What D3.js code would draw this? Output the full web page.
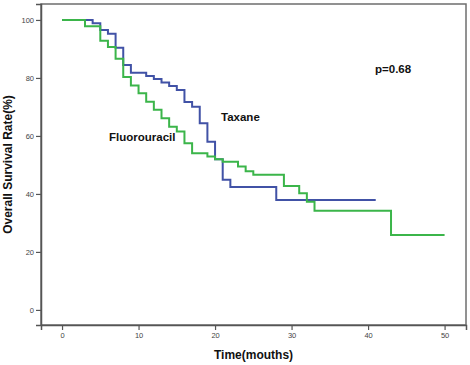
<!DOCTYPE html>
<html>
<head>
<meta charset="utf-8">
<script src="https://cdn.jsdelivr.net/npm/d3@7"></script>
<style>
  html, body { margin: 0; padding: 0; background: #fff; }
  svg { display: block; }
  text { font-family: "Liberation Sans", Arial, sans-serif; }
</style>
</head>
<body>
<svg id="chart" width="470" height="365"></svg>
<script>
// ---- data (step points: time, survival %) ----
const taxaneTimes    = [0, 4, 5, 6, 7, 8, 9, 11, 12, 13, 14, 15, 16, 17, 18, 19, 20, 21, 22, 28, 41];
const taxaneSurv     = [100, 98.9, 96.5, 95.2, 90.4, 84.5, 81.8, 80.7, 79.6, 78.4, 77.2, 75.8, 71.7, 70.1, 64.4, 58, 52, 44.9, 42.4, 37.9, 37.9];
const fluoroTimes    = [0, 3, 5, 6, 7, 8, 9, 10, 11, 12, 13, 14, 15, 16, 17, 19, 20, 21, 23, 24, 25, 29, 31, 32, 33, 43, 50];
const fluoroSurv     = [100, 97.8, 92.8, 90.7, 86.6, 80.3, 77.4, 74.7, 71.8, 69, 66.1, 63.2, 61.5, 57.5, 54, 52.9, 52, 51.1, 49.5, 47.8, 46.6, 42.7, 40.2, 37.3, 34.2, 25.8, 25.8];
const xTicks = [0, 10, 20, 30, 40, 50];
const yTicks = [0, 20, 40, 60, 80, 100];
const xTitle = "Time(mouths)";
const yTitle = "Overall Survival Rate(%)";
const pLabel = "p=0.68";
const seriesNames = ["Taxane", "Fluorouracil"];

// ---- layout ----
const svg = d3.select("#chart");
const L = 41, R = 466, T = 4, B = 325;

const x = d3.scaleLinear().domain([-2.75, 52.8]).range([L, R]);
const y = d3.scaleLinear().domain([-5.2, 105.5]).range([B, T]);

// frame
svg.append("rect")
  .attr("x", L).attr("y", T).attr("width", R - L).attr("height", B - T)
  .attr("fill", "none").attr("stroke", "#6e6e6e").attr("stroke-width", 1.5);

// axes
const yAxis = svg.append("g").attr("transform", `translate(${L},0)`)
  .call(d3.axisLeft(y).tickValues(yTicks).tickSize(5).tickPadding(2));
const xAxis = svg.append("g").attr("transform", `translate(0,${B})`)
  .call(d3.axisBottom(x).tickValues(xTicks).tickSize(5).tickPadding(3));
[yAxis, xAxis].forEach(g => {
  g.select(".domain").attr("stroke", "#555").attr("stroke-width", 1.5);
  g.selectAll(".tick line").attr("stroke", "#555").attr("stroke-width", 1.2);
  g.selectAll(".tick text").attr("fill", "#444")
    .style("font-family", "'Liberation Sans', Arial, sans-serif").style("font-size", "7.5px");
});

// curves
const line = d3.line().x(d => x(d[0])).y(d => y(d[1])).curve(d3.curveStepAfter);
const tax = taxaneTimes.map((t, i) => [t, taxaneSurv[i]]);
const flu = fluoroTimes.map((t, i) => [t, fluoroSurv[i]]);

svg.append("path").datum(tax).attr("d", line)
  .attr("fill", "none").attr("stroke", "#4152a6").attr("stroke-width", 2);
svg.append("path").datum(flu).attr("d", line)
  .attr("fill", "none").attr("stroke", "#3bb54a").attr("stroke-width", 2);

// annotations
svg.append("text").attr("x", 375).attr("y", 72.5).text(pLabel)
  .attr("font-weight", "bold").attr("font-size", "11.5px").attr("fill", "#111");
svg.append("text").attr("x", 221).attr("y", 120.5).text(seriesNames[0])
  .attr("font-weight", "bold").attr("font-size", "11.5px").attr("fill", "#111");
svg.append("text").attr("x", 109).attr("y", 140.5).text(seriesNames[1])
  .attr("font-weight", "bold").attr("font-size", "11.5px").attr("fill", "#111");

// axis titles
svg.append("text").attr("x", (L + R) / 2).attr("y", 359).attr("text-anchor", "middle")
  .text(xTitle).attr("font-weight", "bold").attr("font-size", "12px").attr("fill", "#111");
svg.append("text").attr("transform", `translate(12,${(T + B) / 2}) rotate(-90)`)
  .attr("text-anchor", "middle").text(yTitle)
  .attr("font-weight", "bold").attr("font-size", "12px").attr("fill", "#111");
</script>
</body>
</html>
